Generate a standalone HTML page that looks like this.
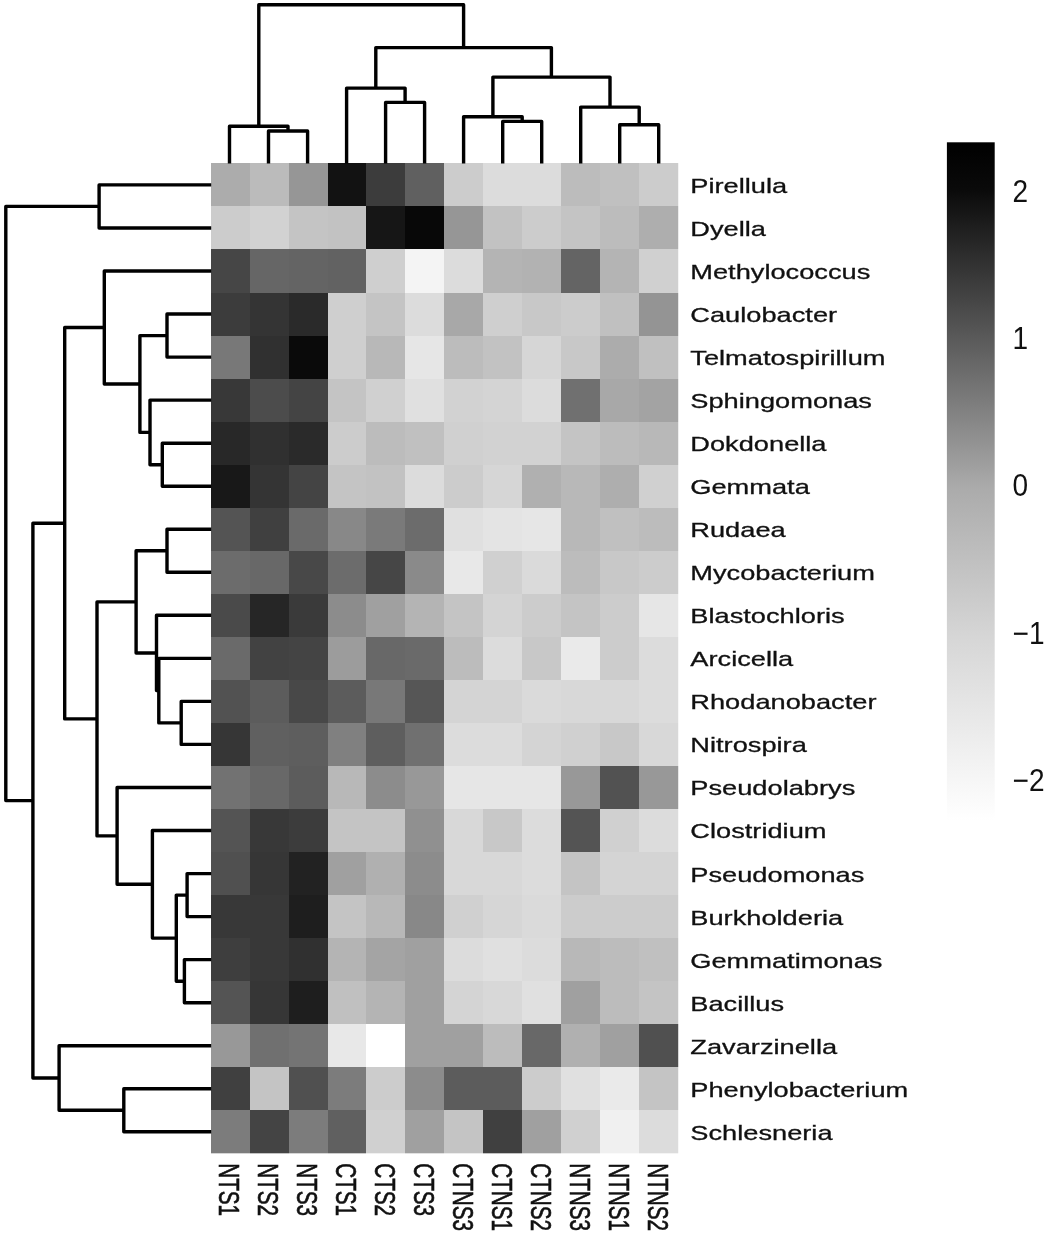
<!DOCTYPE html><html><head><meta charset="utf-8"><title>Heatmap</title>
<style>html,body{margin:0;padding:0;background:#fff}svg{display:block}text{font-family:"Liberation Sans",sans-serif;fill:#111}</style></head><body>
<svg width="1050" height="1235" viewBox="0 0 1050 1235">
<rect width="1050" height="1235" fill="#fff"/>
<defs><linearGradient id="cb" x1="0" y1="0" x2="0" y2="1"><stop offset="0" stop-color="#000"/><stop offset="0.07" stop-color="#0a0a0a"/><stop offset="0.29" stop-color="#5a5a5a"/><stop offset="0.51" stop-color="#ababab"/><stop offset="0.73" stop-color="#d6d6d6"/><stop offset="0.94" stop-color="#f6f6f6"/><stop offset="1" stop-color="#fff"/></linearGradient><filter id="soft" x="0" y="0" width="1050" height="1235" filterUnits="userSpaceOnUse" color-interpolation-filters="sRGB"><feGaussianBlur stdDeviation="0.5"/></filter></defs>
<g filter="url(#soft)">
<rect x="946.9" y="142.3" width="47.8" height="678" fill="url(#cb)"/>
<g shape-rendering="crispEdges">
<rect x="210.60" y="163.40" width="39.47" height="43.54" fill="#acacac"/>
<rect x="249.57" y="163.40" width="39.47" height="43.54" fill="#bbbbbb"/>
<rect x="288.54" y="163.40" width="39.47" height="43.54" fill="#969696"/>
<rect x="327.51" y="163.40" width="39.47" height="43.54" fill="#121212"/>
<rect x="366.48" y="163.40" width="39.47" height="43.54" fill="#3c3c3c"/>
<rect x="405.45" y="163.40" width="39.47" height="43.54" fill="#606060"/>
<rect x="444.42" y="163.40" width="39.47" height="43.54" fill="#cccccc"/>
<rect x="483.39" y="163.40" width="39.47" height="43.54" fill="#dcdcdc"/>
<rect x="522.36" y="163.40" width="39.47" height="43.54" fill="#dcdcdc"/>
<rect x="561.33" y="163.40" width="39.47" height="43.54" fill="#bcbcbc"/>
<rect x="600.30" y="163.40" width="39.47" height="43.54" fill="#c0c0c0"/>
<rect x="639.27" y="163.40" width="39.47" height="43.54" fill="#cccccc"/>
<rect x="210.60" y="206.44" width="39.47" height="43.54" fill="#cccccc"/>
<rect x="249.57" y="206.44" width="39.47" height="43.54" fill="#d2d2d2"/>
<rect x="288.54" y="206.44" width="39.47" height="43.54" fill="#c4c4c4"/>
<rect x="327.51" y="206.44" width="39.47" height="43.54" fill="#c2c2c2"/>
<rect x="366.48" y="206.44" width="39.47" height="43.54" fill="#161616"/>
<rect x="405.45" y="206.44" width="39.47" height="43.54" fill="#080808"/>
<rect x="444.42" y="206.44" width="39.47" height="43.54" fill="#969696"/>
<rect x="483.39" y="206.44" width="39.47" height="43.54" fill="#c2c2c2"/>
<rect x="522.36" y="206.44" width="39.47" height="43.54" fill="#cccccc"/>
<rect x="561.33" y="206.44" width="39.47" height="43.54" fill="#c4c4c4"/>
<rect x="600.30" y="206.44" width="39.47" height="43.54" fill="#bcbcbc"/>
<rect x="639.27" y="206.44" width="39.47" height="43.54" fill="#aeaeae"/>
<rect x="210.60" y="249.48" width="39.47" height="43.54" fill="#464646"/>
<rect x="249.57" y="249.48" width="39.47" height="43.54" fill="#666666"/>
<rect x="288.54" y="249.48" width="39.47" height="43.54" fill="#646464"/>
<rect x="327.51" y="249.48" width="39.47" height="43.54" fill="#626262"/>
<rect x="366.48" y="249.48" width="39.47" height="43.54" fill="#cfcfcf"/>
<rect x="405.45" y="249.48" width="39.47" height="43.54" fill="#f4f4f4"/>
<rect x="444.42" y="249.48" width="39.47" height="43.54" fill="#dcdcdc"/>
<rect x="483.39" y="249.48" width="39.47" height="43.54" fill="#b4b4b4"/>
<rect x="522.36" y="249.48" width="39.47" height="43.54" fill="#b2b2b2"/>
<rect x="561.33" y="249.48" width="39.47" height="43.54" fill="#646464"/>
<rect x="600.30" y="249.48" width="39.47" height="43.54" fill="#b4b4b4"/>
<rect x="639.27" y="249.48" width="39.47" height="43.54" fill="#d0d0d0"/>
<rect x="210.60" y="292.52" width="39.47" height="43.54" fill="#3c3c3c"/>
<rect x="249.57" y="292.52" width="39.47" height="43.54" fill="#343434"/>
<rect x="288.54" y="292.52" width="39.47" height="43.54" fill="#2a2a2a"/>
<rect x="327.51" y="292.52" width="39.47" height="43.54" fill="#cfcfcf"/>
<rect x="366.48" y="292.52" width="39.47" height="43.54" fill="#c4c4c4"/>
<rect x="405.45" y="292.52" width="39.47" height="43.54" fill="#dcdcdc"/>
<rect x="444.42" y="292.52" width="39.47" height="43.54" fill="#a8a8a8"/>
<rect x="483.39" y="292.52" width="39.47" height="43.54" fill="#cfcfcf"/>
<rect x="522.36" y="292.52" width="39.47" height="43.54" fill="#c8c8c8"/>
<rect x="561.33" y="292.52" width="39.47" height="43.54" fill="#cccccc"/>
<rect x="600.30" y="292.52" width="39.47" height="43.54" fill="#c0c0c0"/>
<rect x="639.27" y="292.52" width="39.47" height="43.54" fill="#949494"/>
<rect x="210.60" y="335.56" width="39.47" height="43.54" fill="#787878"/>
<rect x="249.57" y="335.56" width="39.47" height="43.54" fill="#303030"/>
<rect x="288.54" y="335.56" width="39.47" height="43.54" fill="#0a0a0a"/>
<rect x="327.51" y="335.56" width="39.47" height="43.54" fill="#cfcfcf"/>
<rect x="366.48" y="335.56" width="39.47" height="43.54" fill="#b8b8b8"/>
<rect x="405.45" y="335.56" width="39.47" height="43.54" fill="#e6e6e6"/>
<rect x="444.42" y="335.56" width="39.47" height="43.54" fill="#bcbcbc"/>
<rect x="483.39" y="335.56" width="39.47" height="43.54" fill="#c2c2c2"/>
<rect x="522.36" y="335.56" width="39.47" height="43.54" fill="#d6d6d6"/>
<rect x="561.33" y="335.56" width="39.47" height="43.54" fill="#c8c8c8"/>
<rect x="600.30" y="335.56" width="39.47" height="43.54" fill="#acacac"/>
<rect x="639.27" y="335.56" width="39.47" height="43.54" fill="#c0c0c0"/>
<rect x="210.60" y="378.60" width="39.47" height="43.54" fill="#383838"/>
<rect x="249.57" y="378.60" width="39.47" height="43.54" fill="#4c4c4c"/>
<rect x="288.54" y="378.60" width="39.47" height="43.54" fill="#444444"/>
<rect x="327.51" y="378.60" width="39.47" height="43.54" fill="#c4c4c4"/>
<rect x="366.48" y="378.60" width="39.47" height="43.54" fill="#d0d0d0"/>
<rect x="405.45" y="378.60" width="39.47" height="43.54" fill="#e0e0e0"/>
<rect x="444.42" y="378.60" width="39.47" height="43.54" fill="#d2d2d2"/>
<rect x="483.39" y="378.60" width="39.47" height="43.54" fill="#d4d4d4"/>
<rect x="522.36" y="378.60" width="39.47" height="43.54" fill="#dcdcdc"/>
<rect x="561.33" y="378.60" width="39.47" height="43.54" fill="#707070"/>
<rect x="600.30" y="378.60" width="39.47" height="43.54" fill="#a8a8a8"/>
<rect x="639.27" y="378.60" width="39.47" height="43.54" fill="#a3a3a3"/>
<rect x="210.60" y="421.64" width="39.47" height="43.54" fill="#282828"/>
<rect x="249.57" y="421.64" width="39.47" height="43.54" fill="#303030"/>
<rect x="288.54" y="421.64" width="39.47" height="43.54" fill="#2a2a2a"/>
<rect x="327.51" y="421.64" width="39.47" height="43.54" fill="#cccccc"/>
<rect x="366.48" y="421.64" width="39.47" height="43.54" fill="#bcbcbc"/>
<rect x="405.45" y="421.64" width="39.47" height="43.54" fill="#c0c0c0"/>
<rect x="444.42" y="421.64" width="39.47" height="43.54" fill="#d0d0d0"/>
<rect x="483.39" y="421.64" width="39.47" height="43.54" fill="#d2d2d2"/>
<rect x="522.36" y="421.64" width="39.47" height="43.54" fill="#d2d2d2"/>
<rect x="561.33" y="421.64" width="39.47" height="43.54" fill="#c4c4c4"/>
<rect x="600.30" y="421.64" width="39.47" height="43.54" fill="#bcbcbc"/>
<rect x="639.27" y="421.64" width="39.47" height="43.54" fill="#b8b8b8"/>
<rect x="210.60" y="464.68" width="39.47" height="43.54" fill="#181818"/>
<rect x="249.57" y="464.68" width="39.47" height="43.54" fill="#343434"/>
<rect x="288.54" y="464.68" width="39.47" height="43.54" fill="#444444"/>
<rect x="327.51" y="464.68" width="39.47" height="43.54" fill="#c4c4c4"/>
<rect x="366.48" y="464.68" width="39.47" height="43.54" fill="#c2c2c2"/>
<rect x="405.45" y="464.68" width="39.47" height="43.54" fill="#dcdcdc"/>
<rect x="444.42" y="464.68" width="39.47" height="43.54" fill="#cccccc"/>
<rect x="483.39" y="464.68" width="39.47" height="43.54" fill="#d6d6d6"/>
<rect x="522.36" y="464.68" width="39.47" height="43.54" fill="#b0b0b0"/>
<rect x="561.33" y="464.68" width="39.47" height="43.54" fill="#b8b8b8"/>
<rect x="600.30" y="464.68" width="39.47" height="43.54" fill="#aeaeae"/>
<rect x="639.27" y="464.68" width="39.47" height="43.54" fill="#d0d0d0"/>
<rect x="210.60" y="507.72" width="39.47" height="43.54" fill="#545454"/>
<rect x="249.57" y="507.72" width="39.47" height="43.54" fill="#404040"/>
<rect x="288.54" y="507.72" width="39.47" height="43.54" fill="#6a6a6a"/>
<rect x="327.51" y="507.72" width="39.47" height="43.54" fill="#888888"/>
<rect x="366.48" y="507.72" width="39.47" height="43.54" fill="#7a7a7a"/>
<rect x="405.45" y="507.72" width="39.47" height="43.54" fill="#6c6c6c"/>
<rect x="444.42" y="507.72" width="39.47" height="43.54" fill="#e0e0e0"/>
<rect x="483.39" y="507.72" width="39.47" height="43.54" fill="#e4e4e4"/>
<rect x="522.36" y="507.72" width="39.47" height="43.54" fill="#e6e6e6"/>
<rect x="561.33" y="507.72" width="39.47" height="43.54" fill="#b8b8b8"/>
<rect x="600.30" y="507.72" width="39.47" height="43.54" fill="#c0c0c0"/>
<rect x="639.27" y="507.72" width="39.47" height="43.54" fill="#bcbcbc"/>
<rect x="210.60" y="550.76" width="39.47" height="43.54" fill="#6c6c6c"/>
<rect x="249.57" y="550.76" width="39.47" height="43.54" fill="#686868"/>
<rect x="288.54" y="550.76" width="39.47" height="43.54" fill="#484848"/>
<rect x="327.51" y="550.76" width="39.47" height="43.54" fill="#6c6c6c"/>
<rect x="366.48" y="550.76" width="39.47" height="43.54" fill="#464646"/>
<rect x="405.45" y="550.76" width="39.47" height="43.54" fill="#8a8a8a"/>
<rect x="444.42" y="550.76" width="39.47" height="43.54" fill="#e8e8e8"/>
<rect x="483.39" y="550.76" width="39.47" height="43.54" fill="#d0d0d0"/>
<rect x="522.36" y="550.76" width="39.47" height="43.54" fill="#dadada"/>
<rect x="561.33" y="550.76" width="39.47" height="43.54" fill="#bcbcbc"/>
<rect x="600.30" y="550.76" width="39.47" height="43.54" fill="#c8c8c8"/>
<rect x="639.27" y="550.76" width="39.47" height="43.54" fill="#cccccc"/>
<rect x="210.60" y="593.80" width="39.47" height="43.54" fill="#4a4a4a"/>
<rect x="249.57" y="593.80" width="39.47" height="43.54" fill="#262626"/>
<rect x="288.54" y="593.80" width="39.47" height="43.54" fill="#3a3a3a"/>
<rect x="327.51" y="593.80" width="39.47" height="43.54" fill="#8c8c8c"/>
<rect x="366.48" y="593.80" width="39.47" height="43.54" fill="#a0a0a0"/>
<rect x="405.45" y="593.80" width="39.47" height="43.54" fill="#b4b4b4"/>
<rect x="444.42" y="593.80" width="39.47" height="43.54" fill="#c4c4c4"/>
<rect x="483.39" y="593.80" width="39.47" height="43.54" fill="#d4d4d4"/>
<rect x="522.36" y="593.80" width="39.47" height="43.54" fill="#cccccc"/>
<rect x="561.33" y="593.80" width="39.47" height="43.54" fill="#c4c4c4"/>
<rect x="600.30" y="593.80" width="39.47" height="43.54" fill="#cccccc"/>
<rect x="639.27" y="593.80" width="39.47" height="43.54" fill="#e6e6e6"/>
<rect x="210.60" y="636.84" width="39.47" height="43.54" fill="#6a6a6a"/>
<rect x="249.57" y="636.84" width="39.47" height="43.54" fill="#424242"/>
<rect x="288.54" y="636.84" width="39.47" height="43.54" fill="#444444"/>
<rect x="327.51" y="636.84" width="39.47" height="43.54" fill="#9c9c9c"/>
<rect x="366.48" y="636.84" width="39.47" height="43.54" fill="#686868"/>
<rect x="405.45" y="636.84" width="39.47" height="43.54" fill="#6a6a6a"/>
<rect x="444.42" y="636.84" width="39.47" height="43.54" fill="#bcbcbc"/>
<rect x="483.39" y="636.84" width="39.47" height="43.54" fill="#dcdcdc"/>
<rect x="522.36" y="636.84" width="39.47" height="43.54" fill="#c8c8c8"/>
<rect x="561.33" y="636.84" width="39.47" height="43.54" fill="#eaeaea"/>
<rect x="600.30" y="636.84" width="39.47" height="43.54" fill="#cccccc"/>
<rect x="639.27" y="636.84" width="39.47" height="43.54" fill="#dcdcdc"/>
<rect x="210.60" y="679.88" width="39.47" height="43.54" fill="#525252"/>
<rect x="249.57" y="679.88" width="39.47" height="43.54" fill="#5c5c5c"/>
<rect x="288.54" y="679.88" width="39.47" height="43.54" fill="#484848"/>
<rect x="327.51" y="679.88" width="39.47" height="43.54" fill="#5c5c5c"/>
<rect x="366.48" y="679.88" width="39.47" height="43.54" fill="#787878"/>
<rect x="405.45" y="679.88" width="39.47" height="43.54" fill="#565656"/>
<rect x="444.42" y="679.88" width="39.47" height="43.54" fill="#d4d4d4"/>
<rect x="483.39" y="679.88" width="39.47" height="43.54" fill="#d4d4d4"/>
<rect x="522.36" y="679.88" width="39.47" height="43.54" fill="#dadada"/>
<rect x="561.33" y="679.88" width="39.47" height="43.54" fill="#d8d8d8"/>
<rect x="600.30" y="679.88" width="39.47" height="43.54" fill="#d8d8d8"/>
<rect x="639.27" y="679.88" width="39.47" height="43.54" fill="#dcdcdc"/>
<rect x="210.60" y="722.92" width="39.47" height="43.54" fill="#363636"/>
<rect x="249.57" y="722.92" width="39.47" height="43.54" fill="#606060"/>
<rect x="288.54" y="722.92" width="39.47" height="43.54" fill="#5e5e5e"/>
<rect x="327.51" y="722.92" width="39.47" height="43.54" fill="#808080"/>
<rect x="366.48" y="722.92" width="39.47" height="43.54" fill="#5e5e5e"/>
<rect x="405.45" y="722.92" width="39.47" height="43.54" fill="#707070"/>
<rect x="444.42" y="722.92" width="39.47" height="43.54" fill="#dcdcdc"/>
<rect x="483.39" y="722.92" width="39.47" height="43.54" fill="#dcdcdc"/>
<rect x="522.36" y="722.92" width="39.47" height="43.54" fill="#d4d4d4"/>
<rect x="561.33" y="722.92" width="39.47" height="43.54" fill="#d0d0d0"/>
<rect x="600.30" y="722.92" width="39.47" height="43.54" fill="#c8c8c8"/>
<rect x="639.27" y="722.92" width="39.47" height="43.54" fill="#d8d8d8"/>
<rect x="210.60" y="765.96" width="39.47" height="43.54" fill="#727272"/>
<rect x="249.57" y="765.96" width="39.47" height="43.54" fill="#686868"/>
<rect x="288.54" y="765.96" width="39.47" height="43.54" fill="#5c5c5c"/>
<rect x="327.51" y="765.96" width="39.47" height="43.54" fill="#b8b8b8"/>
<rect x="366.48" y="765.96" width="39.47" height="43.54" fill="#8c8c8c"/>
<rect x="405.45" y="765.96" width="39.47" height="43.54" fill="#989898"/>
<rect x="444.42" y="765.96" width="39.47" height="43.54" fill="#e6e6e6"/>
<rect x="483.39" y="765.96" width="39.47" height="43.54" fill="#e6e6e6"/>
<rect x="522.36" y="765.96" width="39.47" height="43.54" fill="#e6e6e6"/>
<rect x="561.33" y="765.96" width="39.47" height="43.54" fill="#989898"/>
<rect x="600.30" y="765.96" width="39.47" height="43.54" fill="#525252"/>
<rect x="639.27" y="765.96" width="39.47" height="43.54" fill="#989898"/>
<rect x="210.60" y="809.00" width="39.47" height="43.54" fill="#545454"/>
<rect x="249.57" y="809.00" width="39.47" height="43.54" fill="#383838"/>
<rect x="288.54" y="809.00" width="39.47" height="43.54" fill="#3c3c3c"/>
<rect x="327.51" y="809.00" width="39.47" height="43.54" fill="#c4c4c4"/>
<rect x="366.48" y="809.00" width="39.47" height="43.54" fill="#c4c4c4"/>
<rect x="405.45" y="809.00" width="39.47" height="43.54" fill="#909090"/>
<rect x="444.42" y="809.00" width="39.47" height="43.54" fill="#d8d8d8"/>
<rect x="483.39" y="809.00" width="39.47" height="43.54" fill="#c8c8c8"/>
<rect x="522.36" y="809.00" width="39.47" height="43.54" fill="#dcdcdc"/>
<rect x="561.33" y="809.00" width="39.47" height="43.54" fill="#545454"/>
<rect x="600.30" y="809.00" width="39.47" height="43.54" fill="#d0d0d0"/>
<rect x="639.27" y="809.00" width="39.47" height="43.54" fill="#dcdcdc"/>
<rect x="210.60" y="852.04" width="39.47" height="43.54" fill="#505050"/>
<rect x="249.57" y="852.04" width="39.47" height="43.54" fill="#363636"/>
<rect x="288.54" y="852.04" width="39.47" height="43.54" fill="#222222"/>
<rect x="327.51" y="852.04" width="39.47" height="43.54" fill="#a0a0a0"/>
<rect x="366.48" y="852.04" width="39.47" height="43.54" fill="#b0b0b0"/>
<rect x="405.45" y="852.04" width="39.47" height="43.54" fill="#8c8c8c"/>
<rect x="444.42" y="852.04" width="39.47" height="43.54" fill="#d8d8d8"/>
<rect x="483.39" y="852.04" width="39.47" height="43.54" fill="#d8d8d8"/>
<rect x="522.36" y="852.04" width="39.47" height="43.54" fill="#dcdcdc"/>
<rect x="561.33" y="852.04" width="39.47" height="43.54" fill="#c4c4c4"/>
<rect x="600.30" y="852.04" width="39.47" height="43.54" fill="#d4d4d4"/>
<rect x="639.27" y="852.04" width="39.47" height="43.54" fill="#d4d4d4"/>
<rect x="210.60" y="895.08" width="39.47" height="43.54" fill="#383838"/>
<rect x="249.57" y="895.08" width="39.47" height="43.54" fill="#383838"/>
<rect x="288.54" y="895.08" width="39.47" height="43.54" fill="#1e1e1e"/>
<rect x="327.51" y="895.08" width="39.47" height="43.54" fill="#c4c4c4"/>
<rect x="366.48" y="895.08" width="39.47" height="43.54" fill="#b8b8b8"/>
<rect x="405.45" y="895.08" width="39.47" height="43.54" fill="#888888"/>
<rect x="444.42" y="895.08" width="39.47" height="43.54" fill="#d0d0d0"/>
<rect x="483.39" y="895.08" width="39.47" height="43.54" fill="#d6d6d6"/>
<rect x="522.36" y="895.08" width="39.47" height="43.54" fill="#dadada"/>
<rect x="561.33" y="895.08" width="39.47" height="43.54" fill="#cccccc"/>
<rect x="600.30" y="895.08" width="39.47" height="43.54" fill="#cccccc"/>
<rect x="639.27" y="895.08" width="39.47" height="43.54" fill="#cccccc"/>
<rect x="210.60" y="938.12" width="39.47" height="43.54" fill="#3e3e3e"/>
<rect x="249.57" y="938.12" width="39.47" height="43.54" fill="#383838"/>
<rect x="288.54" y="938.12" width="39.47" height="43.54" fill="#303030"/>
<rect x="327.51" y="938.12" width="39.47" height="43.54" fill="#b4b4b4"/>
<rect x="366.48" y="938.12" width="39.47" height="43.54" fill="#a4a4a4"/>
<rect x="405.45" y="938.12" width="39.47" height="43.54" fill="#a0a0a0"/>
<rect x="444.42" y="938.12" width="39.47" height="43.54" fill="#dcdcdc"/>
<rect x="483.39" y="938.12" width="39.47" height="43.54" fill="#e0e0e0"/>
<rect x="522.36" y="938.12" width="39.47" height="43.54" fill="#dcdcdc"/>
<rect x="561.33" y="938.12" width="39.47" height="43.54" fill="#b8b8b8"/>
<rect x="600.30" y="938.12" width="39.47" height="43.54" fill="#bcbcbc"/>
<rect x="639.27" y="938.12" width="39.47" height="43.54" fill="#c0c0c0"/>
<rect x="210.60" y="981.16" width="39.47" height="43.54" fill="#545454"/>
<rect x="249.57" y="981.16" width="39.47" height="43.54" fill="#363636"/>
<rect x="288.54" y="981.16" width="39.47" height="43.54" fill="#1e1e1e"/>
<rect x="327.51" y="981.16" width="39.47" height="43.54" fill="#c0c0c0"/>
<rect x="366.48" y="981.16" width="39.47" height="43.54" fill="#b4b4b4"/>
<rect x="405.45" y="981.16" width="39.47" height="43.54" fill="#a0a0a0"/>
<rect x="444.42" y="981.16" width="39.47" height="43.54" fill="#d4d4d4"/>
<rect x="483.39" y="981.16" width="39.47" height="43.54" fill="#d8d8d8"/>
<rect x="522.36" y="981.16" width="39.47" height="43.54" fill="#e0e0e0"/>
<rect x="561.33" y="981.16" width="39.47" height="43.54" fill="#a0a0a0"/>
<rect x="600.30" y="981.16" width="39.47" height="43.54" fill="#bcbcbc"/>
<rect x="639.27" y="981.16" width="39.47" height="43.54" fill="#c4c4c4"/>
<rect x="210.60" y="1024.20" width="39.47" height="43.54" fill="#989898"/>
<rect x="249.57" y="1024.20" width="39.47" height="43.54" fill="#707070"/>
<rect x="288.54" y="1024.20" width="39.47" height="43.54" fill="#747474"/>
<rect x="327.51" y="1024.20" width="39.47" height="43.54" fill="#e8e8e8"/>
<rect x="366.48" y="1024.20" width="39.47" height="43.54" fill="#ffffff"/>
<rect x="405.45" y="1024.20" width="39.47" height="43.54" fill="#a0a0a0"/>
<rect x="444.42" y="1024.20" width="39.47" height="43.54" fill="#a0a0a0"/>
<rect x="483.39" y="1024.20" width="39.47" height="43.54" fill="#bcbcbc"/>
<rect x="522.36" y="1024.20" width="39.47" height="43.54" fill="#686868"/>
<rect x="561.33" y="1024.20" width="39.47" height="43.54" fill="#b0b0b0"/>
<rect x="600.30" y="1024.20" width="39.47" height="43.54" fill="#a0a0a0"/>
<rect x="639.27" y="1024.20" width="39.47" height="43.54" fill="#505050"/>
<rect x="210.60" y="1067.24" width="39.47" height="43.54" fill="#404040"/>
<rect x="249.57" y="1067.24" width="39.47" height="43.54" fill="#c4c4c4"/>
<rect x="288.54" y="1067.24" width="39.47" height="43.54" fill="#505050"/>
<rect x="327.51" y="1067.24" width="39.47" height="43.54" fill="#7c7c7c"/>
<rect x="366.48" y="1067.24" width="39.47" height="43.54" fill="#cccccc"/>
<rect x="405.45" y="1067.24" width="39.47" height="43.54" fill="#8c8c8c"/>
<rect x="444.42" y="1067.24" width="39.47" height="43.54" fill="#5c5c5c"/>
<rect x="483.39" y="1067.24" width="39.47" height="43.54" fill="#5c5c5c"/>
<rect x="522.36" y="1067.24" width="39.47" height="43.54" fill="#cccccc"/>
<rect x="561.33" y="1067.24" width="39.47" height="43.54" fill="#e0e0e0"/>
<rect x="600.30" y="1067.24" width="39.47" height="43.54" fill="#eaeaea"/>
<rect x="639.27" y="1067.24" width="39.47" height="43.54" fill="#c4c4c4"/>
<rect x="210.60" y="1110.28" width="39.47" height="43.54" fill="#7c7c7c"/>
<rect x="249.57" y="1110.28" width="39.47" height="43.54" fill="#444444"/>
<rect x="288.54" y="1110.28" width="39.47" height="43.54" fill="#7c7c7c"/>
<rect x="327.51" y="1110.28" width="39.47" height="43.54" fill="#606060"/>
<rect x="366.48" y="1110.28" width="39.47" height="43.54" fill="#d0d0d0"/>
<rect x="405.45" y="1110.28" width="39.47" height="43.54" fill="#a0a0a0"/>
<rect x="444.42" y="1110.28" width="39.47" height="43.54" fill="#c4c4c4"/>
<rect x="483.39" y="1110.28" width="39.47" height="43.54" fill="#404040"/>
<rect x="522.36" y="1110.28" width="39.47" height="43.54" fill="#a0a0a0"/>
<rect x="561.33" y="1110.28" width="39.47" height="43.54" fill="#d0d0d0"/>
<rect x="600.30" y="1110.28" width="39.47" height="43.54" fill="#f0f0f0"/>
<rect x="639.27" y="1110.28" width="39.47" height="43.54" fill="#dcdcdc"/>
</g>
<rect x="678.24" y="162.4" width="2" height="992.92" fill="#fff"/>
<rect x="209.0" y="1153.32" width="471.24" height="2" fill="#fff"/>
<path d="M268.5 163.4V131.0H307.6V163.4M229.5 163.4V126.2H288.0V131.0M385.6 163.4V102.4H424.6V163.4M346.6 163.4V88.1H405.1V102.4M502.7 163.4V121.4H541.7V163.4M463.6 163.4V116.7H522.2V121.4M619.7 163.4V124.8H658.7V163.4M580.7 163.4V107.1H639.2V124.8M492.9 116.7V77.1H610.0V107.1M375.8 88.1V47.6H551.4V77.1M258.8 126.2V4.8H463.6V47.6M211.2 184.9H99.1V228.0H211.2M211.2 314.0H167.0V357.1H211.2M211.2 443.2H162.3V486.2H211.2M211.2 400.1H150.0V464.7H162.3M167.0 335.6H139.9V432.4H150.0M211.2 271.0H104.3V384.0H139.9M211.2 529.2H167.0V572.3H211.2M211.2 701.4H181.2V744.4H211.2M211.2 658.4H158.8V722.9H181.2M211.2 615.3H156.5V690.6H158.8M167.0 550.8H136.1V653.0H156.5M211.2 873.6H187.1V916.6H211.2M211.2 959.6H184.4V1002.7H211.2M187.1 895.1H176.3V981.2H184.4M211.2 830.5H152.4V938.1H176.3M211.2 787.5H117.1V884.3H152.4M136.1 601.9H97.0V835.9H117.1M104.3 327.5H64.7V718.9H97.0M211.2 1088.8H123.8V1131.8H211.2M211.2 1045.7H59.1V1110.3H123.8M64.7 523.2H32.9V1078.0H59.1M99.1 206.4H5.8V800.6H32.9" fill="none" stroke="#000" stroke-width="3.4" stroke-linejoin="round" stroke-linecap="butt"/>
<text transform="translate(690.3,192.8) scale(1.303,1)" font-size="20.9" stroke="#111" stroke-width="0.3">Pirellula</text>
<text transform="translate(690.3,235.9) scale(1.303,1)" font-size="20.9" stroke="#111" stroke-width="0.3">Dyella</text>
<text transform="translate(690.3,278.9) scale(1.303,1)" font-size="20.9" stroke="#111" stroke-width="0.3">Methylococcus</text>
<text transform="translate(690.3,321.9) scale(1.303,1)" font-size="20.9" stroke="#111" stroke-width="0.3">Caulobacter</text>
<text transform="translate(690.3,365.0) scale(1.303,1)" font-size="20.9" stroke="#111" stroke-width="0.3">Telmatospirillum</text>
<text transform="translate(690.3,408.0) scale(1.303,1)" font-size="20.9" stroke="#111" stroke-width="0.3">Sphingomonas</text>
<text transform="translate(690.3,451.1) scale(1.303,1)" font-size="20.9" stroke="#111" stroke-width="0.3">Dokdonella</text>
<text transform="translate(690.3,494.1) scale(1.303,1)" font-size="20.9" stroke="#111" stroke-width="0.3">Gemmata</text>
<text transform="translate(690.3,537.1) scale(1.303,1)" font-size="20.9" stroke="#111" stroke-width="0.3">Rudaea</text>
<text transform="translate(690.3,580.2) scale(1.303,1)" font-size="20.9" stroke="#111" stroke-width="0.3">Mycobacterium</text>
<text transform="translate(690.3,623.2) scale(1.303,1)" font-size="20.9" stroke="#111" stroke-width="0.3">Blastochloris</text>
<text transform="translate(690.3,666.3) scale(1.303,1)" font-size="20.9" stroke="#111" stroke-width="0.3">Arcicella</text>
<text transform="translate(690.3,709.3) scale(1.303,1)" font-size="20.9" stroke="#111" stroke-width="0.3">Rhodanobacter</text>
<text transform="translate(690.3,752.3) scale(1.303,1)" font-size="20.9" stroke="#111" stroke-width="0.3">Nitrospira</text>
<text transform="translate(690.3,795.4) scale(1.303,1)" font-size="20.9" stroke="#111" stroke-width="0.3">Pseudolabrys</text>
<text transform="translate(690.3,838.4) scale(1.303,1)" font-size="20.9" stroke="#111" stroke-width="0.3">Clostridium</text>
<text transform="translate(690.3,881.5) scale(1.303,1)" font-size="20.9" stroke="#111" stroke-width="0.3">Pseudomonas</text>
<text transform="translate(690.3,924.5) scale(1.303,1)" font-size="20.9" stroke="#111" stroke-width="0.3">Burkholderia</text>
<text transform="translate(690.3,967.5) scale(1.303,1)" font-size="20.9" stroke="#111" stroke-width="0.3">Gemmatimonas</text>
<text transform="translate(690.3,1010.6) scale(1.303,1)" font-size="20.9" stroke="#111" stroke-width="0.3">Bacillus</text>
<text transform="translate(690.3,1053.6) scale(1.303,1)" font-size="20.9" stroke="#111" stroke-width="0.3">Zavarzinella</text>
<text transform="translate(690.3,1096.7) scale(1.303,1)" font-size="20.9" stroke="#111" stroke-width="0.3">Phenylobacterium</text>
<text transform="translate(690.3,1139.7) scale(1.303,1)" font-size="20.9" stroke="#111" stroke-width="0.3">Schlesneria</text>
<text transform="translate(219.1,1163.2) rotate(90) scale(1,1.43)" font-size="20.7" stroke="#111" stroke-width="0.45">NTS1</text>
<text transform="translate(258.1,1163.2) rotate(90) scale(1,1.43)" font-size="20.7" stroke="#111" stroke-width="0.45">NTS2</text>
<text transform="translate(297.2,1163.2) rotate(90) scale(1,1.43)" font-size="20.7" stroke="#111" stroke-width="0.45">NTS3</text>
<text transform="translate(336.2,1163.2) rotate(90) scale(1,1.43)" font-size="20.7" stroke="#111" stroke-width="0.45">CTS1</text>
<text transform="translate(375.2,1163.2) rotate(90) scale(1,1.43)" font-size="20.7" stroke="#111" stroke-width="0.45">CTS2</text>
<text transform="translate(414.2,1163.2) rotate(90) scale(1,1.43)" font-size="20.7" stroke="#111" stroke-width="0.45">CTS3</text>
<text transform="translate(453.2,1163.2) rotate(90) scale(1,1.43)" font-size="20.7" stroke="#111" stroke-width="0.45">CTNS3</text>
<text transform="translate(492.3,1163.2) rotate(90) scale(1,1.43)" font-size="20.7" stroke="#111" stroke-width="0.45">CTNS1</text>
<text transform="translate(531.3,1163.2) rotate(90) scale(1,1.43)" font-size="20.7" stroke="#111" stroke-width="0.45">CTNS2</text>
<text transform="translate(570.3,1163.2) rotate(90) scale(1,1.43)" font-size="20.7" stroke="#111" stroke-width="0.45">NTNS3</text>
<text transform="translate(609.3,1163.2) rotate(90) scale(1,1.43)" font-size="20.7" stroke="#111" stroke-width="0.45">NTNS1</text>
<text transform="translate(648.3,1163.2) rotate(90) scale(1,1.43)" font-size="20.7" stroke="#111" stroke-width="0.45">NTNS2</text>
<text transform="translate(1012.6,201.5) scale(0.89,1)" font-size="31.5">2</text>
<text transform="translate(1012.6,348.9) scale(0.89,1)" font-size="31.5">1</text>
<text transform="translate(1012.6,496.3) scale(0.89,1)" font-size="31.5">0</text>
<text transform="translate(1012.6,643.7) scale(0.89,1)" font-size="31.5">−1</text>
<text transform="translate(1012.6,791.1) scale(0.89,1)" font-size="31.5">−2</text>
</g></svg></body></html>
